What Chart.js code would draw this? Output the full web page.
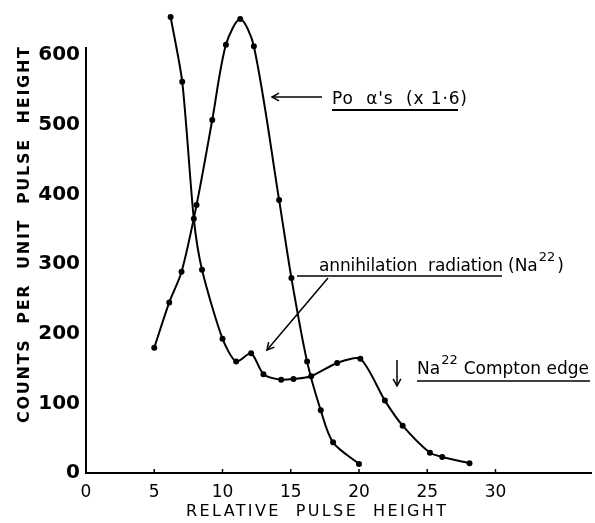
<!DOCTYPE html>
<html>
<head>
<meta charset="utf-8">
<script src="https://cdn.jsdelivr.net/npm/chart.js@4.4.0/dist/chart.umd.min.js"></script>
<style>
  html, body { margin: 0; padding: 0; background: #fff; }
  #wrap { width: 595px; height: 523px; }
</style>
</head>
<body>
<div id="wrap"><canvas id="chart"></canvas></div>
<script>
// Po alpha spectrum (x1.6)
const poX = [5, 6.1, 7, 8.1, 9.25, 10.25, 11.3, 12.3, 14.15, 15.05, 16.2, 17.2, 18.1, 20];
const poY = [180, 245, 289, 385, 507, 615, 652, 613, 392, 280, 160, 90, 44, 13];

// Na22 spectrum
const naX = [6.2, 7.05, 7.9, 8.5, 10, 11, 12.1, 13, 14.3, 15.2, 16.5, 18.4, 20.1, 21.9, 23.2, 25.2, 26.1, 28.1];
const naY = [655, 562, 365, 292, 193, 160, 172, 142, 134, 135, 139, 158, 164, 104, 68, 29, 23, 14];

const xTicks = [0, 5, 10, 15, 20, 25, 30];
const yTicks = [0, 100, 200, 300, 400, 500, 600];

const toPoints = (xs, ys) => xs.map((x, i) => ({ x: x, y: ys[i] }));

const FONT = "'DejaVu Sans', sans-serif";

// text spread out with letter spacing so it fills a given length (from x)
function spacedText(ctx, text, x, y, length) {
  ctx.letterSpacing = "0px";
  const w = ctx.measureText(text).width;
  const gap = (length - w) / (text.length - 1);
  ctx.letterSpacing = gap + "px";
  ctx.textAlign = "left";
  ctx.fillText(text, x, y);
  ctx.letterSpacing = "0px";
}

function arrowHead(ctx, x1, y1, x2, y2, size) {
  const a = Math.atan2(y2 - y1, x2 - x1);
  ctx.beginPath();
  ctx.moveTo(x2 - size * Math.cos(a - 0.5), y2 - size * Math.sin(a - 0.5));
  ctx.lineTo(x2, y2);
  ctx.lineTo(x2 - size * Math.cos(a + 0.5), y2 - size * Math.sin(a + 0.5));
  ctx.stroke();
}

function arrow(ctx, x1, y1, x2, y2) {
  ctx.beginPath();
  ctx.moveTo(x1, y1);
  ctx.lineTo(x2, y2);
  ctx.stroke();
  arrowHead(ctx, x1, y1, x2, y2, 8);
}

function underline(ctx, x1, x2, y) {
  ctx.beginPath();
  ctx.moveTo(x1, y);
  ctx.lineTo(x2, y);
  ctx.stroke();
}

// axis line, titles and the hand-written notes
const notesPlugin = {
  id: "notes",
  afterDraw(chart) {
    const ctx = chart.ctx;
    const xs = chart.scales.x;
    const ys = chart.scales.y;
    ctx.save();
    ctx.strokeStyle = "#000";
    ctx.fillStyle = "#000";
    ctx.lineWidth = 2;

    // y axis line
    ctx.beginPath();
    ctx.moveTo(xs.getPixelForValue(0), ys.getPixelForValue(0));
    ctx.lineTo(xs.getPixelForValue(0), ys.getPixelForValue(612));
    ctx.stroke();

    // small tick marks on x axis
    ctx.lineWidth = 1.5;
    xTicks.slice(1).forEach((v) => {
      const px = xs.getPixelForValue(v);
      ctx.beginPath();
      ctx.moveTo(px, ys.getPixelForValue(0));
      ctx.lineTo(px, ys.getPixelForValue(0) - 4);
      ctx.stroke();
    });

    // axis titles
    ctx.textBaseline = "middle";
    ctx.font = "bold 16px " + FONT;
    ctx.save();
    ctx.translate(25, 235);
    ctx.rotate(-Math.PI / 2);
    spacedText(ctx, "COUNTS  PER  UNIT  PULSE  HEIGHT", -188, 0, 376);
    ctx.restore();
    ctx.font = "16px " + FONT;
    spacedText(ctx, "RELATIVE  PULSE  HEIGHT", 186, 512, 260);

    // Po alpha note
    ctx.lineWidth = 1.5;
    ctx.textBaseline = "alphabetic";
    ctx.textAlign = "left";
    ctx.font = "17px " + FONT;
    arrow(ctx, 322, 97, 272, 97);
    spacedText(ctx, "Po  \u03b1's  (x 1\u00b76)", 332, 104, 135);
    ctx.lineWidth = 2;
    underline(ctx, 332, 458, 110);
    ctx.lineWidth = 1.5;

    // annihilation note
    ctx.font = "17px " + FONT;
    spacedText(ctx, "annihilation  radiation", 319, 271, 184);
    ctx.fillText("(Na", 508, 271);
    let w = ctx.measureText("(Na").width;
    ctx.font = "13px " + FONT;
    ctx.fillText("22", 508 + w + 1, 261);
    let w2 = ctx.measureText("22").width;
    ctx.font = "17px " + FONT;
    ctx.fillText(")", 508 + w + w2 + 3, 271);
    underline(ctx, 297, 502, 276);
    arrow(ctx, 328, 278, 267, 350);

    // Compton edge note
    arrow(ctx, 397, 360, 397, 386);
    ctx.fillText("Na", 417, 374);
    w = ctx.measureText("Na").width;
    ctx.font = "13px " + FONT;
    ctx.fillText("22", 417 + w + 1, 364);
    w2 = ctx.measureText("22").width;
    ctx.font = "17px " + FONT;
    ctx.fillText("Compton edge", 417 + w + w2 + 7, 374);
    underline(ctx, 417, 590, 381);

    ctx.restore();
  }
};

const lineStyle = {
  borderColor: "#000",
  backgroundColor: "#000",
  borderWidth: 2,
  pointRadius: 2,
  pointHoverRadius: 2,
  tension: 0.3,
  fill: false
};

new Chart(document.getElementById("chart"), {
  type: "line",
  data: {
    datasets: [
      Object.assign({ label: "Po alpha's (x1.6)", data: toPoints(poX, poY) }, lineStyle),
      Object.assign({ label: "Na22", data: toPoints(naX, naY) }, lineStyle, { tension: 0.25 })
    ]
  },
  plugins: [notesPlugin],
  options: {
    responsive: true,
    maintainAspectRatio: false,
    animation: false,
    layout: { padding: { top: 6, right: 0, left: 0, bottom: 0 } },
    plugins: {
      legend: { display: false },
      tooltip: { enabled: false }
    },
    scales: {
      x: {
        type: "linear",
        min: 0,
        max: 37,
        grid: { display: false },
        border: { display: true, color: "#000", width: 2 },
        ticks: {
          stepSize: 5,
          includeBounds: false,
          padding: 1,
          color: "#000",
          font: { family: FONT, size: 17 },
          maxRotation: 0,
          callback: (v) => (xTicks.includes(v) ? String(v) : "")
        },
        afterFit: (scale) => { scale.height = 50; }
      },
      y: {
        type: "linear",
        min: 0,
        max: 665,
        grid: { display: false },
        border: { display: false },
        ticks: {
          stepSize: 100,
          includeBounds: false,
          padding: -2,
          color: "#000",
          font: { family: FONT, size: 20, weight: "bold" },
          callback: (v) => (yTicks.includes(v) ? String(v) : "")
        },
        afterFit: (scale) => { scale.width = 86; }
      }
    }
  }
});
</script>
</body>
</html>
